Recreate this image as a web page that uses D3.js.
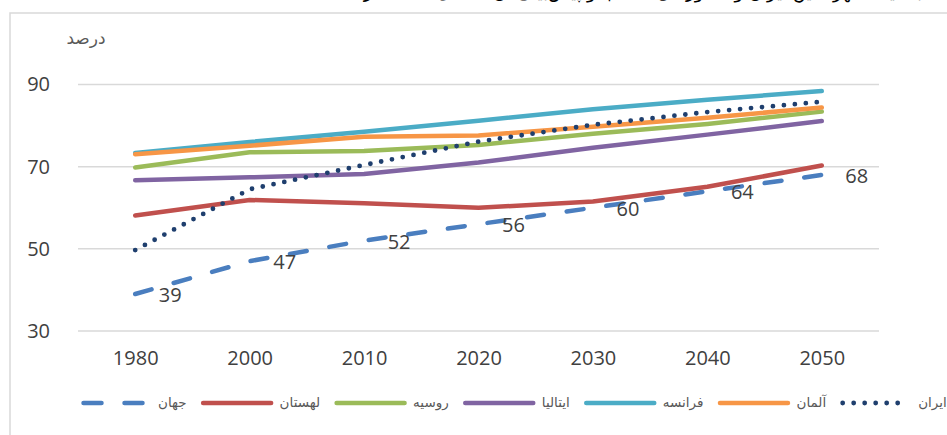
<!DOCTYPE html>
<html>
<head>
<meta charset="utf-8">
<script src="https://cdn.jsdelivr.net/npm/d3@7"></script>
<style>
  html, body { margin: 0; padding: 0; background: #fff; overflow: hidden; }
  svg { display: block; }
</style>
</head>
<body>
<svg id="chart"></svg>
<script>
let width = 947, height = 435;

// chart data (percent of population)
const years = ["1980", "2000", "2010", "2020", "2030", "2040", "2050"];
const yTicks = [30, 50, 70, 90];
const seriesNames = ["جهان", "لهستان", "روسیه", "ایتالیا", "فرانسه", "آلمان", "ایران"];
const world   = [39, 47, 52, 56, 60, 64, 68];
const poland  = [58.1, 61.9, 61.1, 60.0, 61.5, 65.1, 70.3];
const russia  = [69.8, 73.5, 73.8, 75.3, 78.0, 80.4, 83.4];
const italy   = [66.7, 67.4, 68.2, 71.0, 74.6, 77.8, 81.1];
const france  = [73.3, 76.0, 78.5, 81.2, 84.0, 86.3, 88.4];
const germany = [73.0, 75.1, 77.3, 77.6, 79.7, 81.9, 84.4];
const iran    = [49.7, 64.5, 70.4, 76.1, 80.2, 83.3, 85.8];
const worldLabels = ["39", "47", "52", "56", "60", "64", "68"];

const colors = ["#4a7ebf", "#c0504d", "#9bbb59", "#8064a2", "#4bacc6", "#f79646", "#1f3f6e"];
const dashes = ["17,23", null, null, null, null, null, "0,11"];
const allSeries = [world, poland, russia, italy, france, germany, iran];

const svg = d3.select("#chart")
  .attr("width", width)
  .attr("height", height);

const numFont = "'Open Sans', sans-serif";
const faFont = "'DejaVu Sans', sans-serif";

// title, cut off at the top of the picture (only its lower part shows)
svg.append("text")
  .attr("x", 332)
  .attr("y", -2)
  .attr("direction", "rtl")
  .attr("text-anchor", "end")
  .attr("font-family", faFont)
  .attr("font-size", 18)
  .attr("fill", "#000")
  .text("نمودار ۱- روند نسبت جمعیت شهرنشین ایران و کشورهای منتخب و پیش‌بینی آن تا سال ۲۰۵۰ (درصد)");

// chart frame
svg.append("path")
  .attr("d", `M10,${height + 5}V13H${width + 5}`)
  .attr("fill", "none")
  .attr("stroke", "#d9d9d9")
  .attr("stroke-width", 1.5);

const x = d3.scalePoint()
  .domain(years)
  .range([78, 879])
  .padding(0.5);

const y = d3.scaleLinear()
  .domain([30, 90])
  .range([331, 84.5]);

// gridlines
svg.append("g")
  .selectAll("line")
  .data(yTicks)
  .join("line")
  .attr("x1", 78)
  .attr("x2", 879)
  .attr("y1", d => y(d))
  .attr("y2", d => y(d))
  .attr("stroke", "#d9d9d9")
  .attr("stroke-width", 1.5);

// y axis labels
svg.append("g")
  .call(d3.axisLeft(y).tickValues(yTicks).tickSize(0).tickPadding(0))
  .attr("transform", "translate(50,0)")
  .call(g => g.select(".domain").remove())
  .call(g => g.selectAll("text")
    .attr("font-family", numFont)
    .attr("font-size", 20)
    .attr("fill", "#404040"));

svg.append("text")
  .attr("x", 86)
  .attr("y", 44)
  .attr("text-anchor", "middle")
  .attr("font-family", faFont)
  .attr("font-size", 17)
  .attr("fill", "#595959")
  .text("درصد");

// x axis labels
svg.append("g")
  .attr("transform", "translate(0,351)")
  .call(d3.axisBottom(x).tickSize(0).tickPadding(0))
  .call(g => g.select(".domain").remove())
  .call(g => g.selectAll("text")
    .attr("dy", "0.71em")
    .attr("font-family", numFont)
    .attr("font-size", 20)
    .attr("fill", "#404040"));

// lines
const line = d3.line()
  .x((d, i) => x(years[i]))
  .y(d => y(d));

svg.append("g")
  .selectAll("path")
  .data(allSeries)
  .join("path")
  .attr("d", d => line(d))
  .attr("fill", "none")
  .attr("stroke", (d, i) => colors[i])
  .attr("stroke-width", (d, i) => i == 6 ? 4.8 : 4.5)
  .attr("stroke-linecap", "round")
  .attr("stroke-linejoin", "round")
  .attr("stroke-dasharray", (d, i) => dashes[i]);

// world data labels
svg.append("g")
  .selectAll("text")
  .data(world)
  .join("text")
  .attr("x", (d, i) => x(years[i]) + 35)
  .attr("y", d => y(d) + 1)
  .attr("dy", "0.35em")
  .attr("text-anchor", "middle")
  .attr("font-family", numFont)
  .attr("font-size", 20)
  .attr("fill", "#404040")
  .text((d, i) => worldLabels[i]);

// legend
const legend = svg.append("g").attr("transform", "translate(0,403)");
let lx = 81;
seriesNames.forEach((name, i) => {
  const swLen = i == 0 ? 65 : (i == 6 ? 66 : 73);
  const pad = i == 0 || i == 6 ? 12 : 6;
  legend.append("line")
    .attr("x1", lx + 2.5)
    .attr("x2", lx + swLen - 2.5)
    .attr("y1", 0)
    .attr("y2", 0)
    .attr("stroke", colors[i])
    .attr("stroke-width", i == 6 ? 4.8 : 4.5)
    .attr("stroke-linecap", "round")
    .attr("stroke-dasharray", i == 0 ? "18,23" : dashes[i]);
  const t = legend.append("text")
    .attr("x", lx + swLen + pad)
    .attr("y", 0)
    .attr("dy", "0.32em")
    .attr("font-family", faFont)
    .attr("font-size", 13.5)
    .attr("fill", "#595959")
    .text(name);
  lx = lx + swLen + pad + t.node().getComputedTextLength() + 14;
});
</script>
</body>
</html>
